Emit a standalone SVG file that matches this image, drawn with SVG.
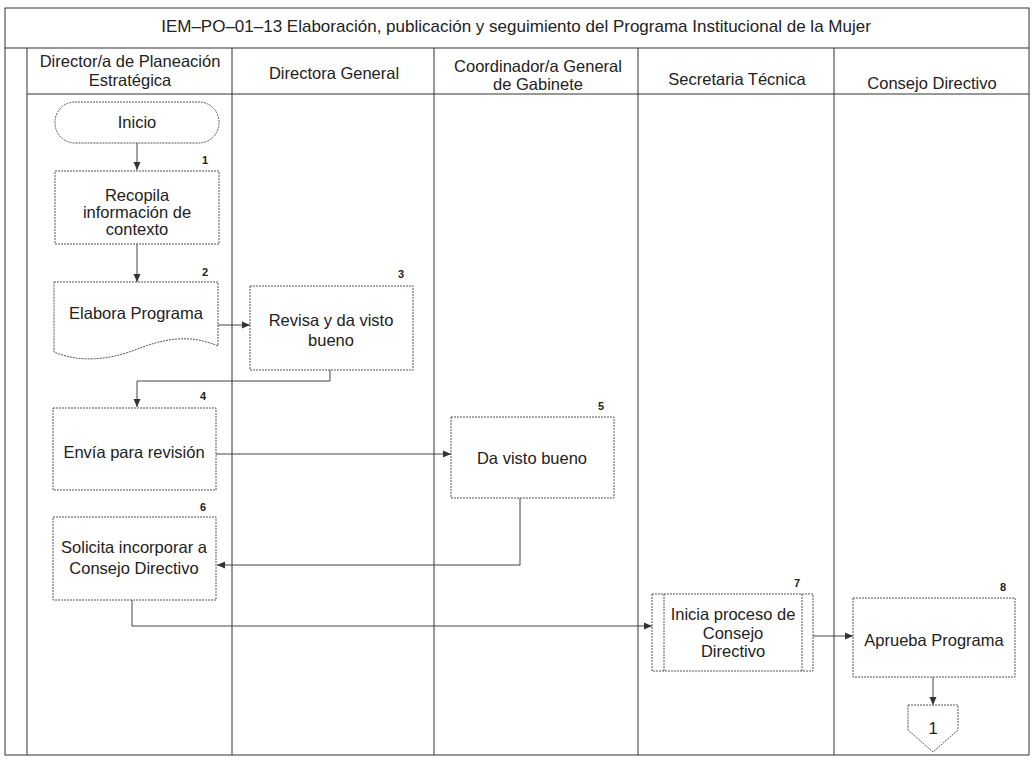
<svg xmlns="http://www.w3.org/2000/svg" width="1032" height="768" viewBox="0 0 1032 768">
  <style>
    .frame { fill: none; stroke: #333; stroke-width: 1; }
    .box { fill: #fff; stroke: #555; stroke-width: 1; stroke-dasharray: 2 1; }
    .conn { fill: none; stroke: #444; stroke-width: 1; marker-end: url(#arrow); }
    text { font-family: "Liberation Sans", Arial, sans-serif; fill: #222; }
    .title { font-size: 17px; text-anchor: middle; }
    .hdr { font-size: 16.5px; text-anchor: middle; }
    .lbl { font-size: 16.5px; text-anchor: middle; }
    .num { font-size: 11px; font-weight: bold; text-anchor: middle; }
  </style>
  <defs>
    <marker id="arrow" markerUnits="userSpaceOnUse" markerWidth="8" markerHeight="8" refX="8" refY="4" orient="auto">
      <path d="M0,0.5 L8,4 L0,7.5 Z" fill="#333"/>
    </marker>
  </defs>
  <rect width="1032" height="768" fill="#fff"/>

  <!-- pool: title, lane headers and lane dividers -->
  <g id="pool">
    <rect class="frame" x="5" y="8" width="1024" height="747"/>
    <line class="frame" x1="5" y1="48" x2="1029" y2="48"/>
    <line class="frame" x1="27" y1="94" x2="1029" y2="94"/>
    <line class="frame" x1="27" y1="48" x2="27" y2="755"/>
    <line class="frame" x1="232" y1="48" x2="232" y2="755"/>
    <line class="frame" x1="434" y1="48" x2="434" y2="755"/>
    <line class="frame" x1="638" y1="48" x2="638" y2="755"/>
    <line class="frame" x1="834" y1="48" x2="834" y2="755"/>
    <text class="title" x="516" y="32">IEM–PO–01–13 Elaboración, publicación y seguimiento del Programa Institucional de la Mujer</text>
    <text class="hdr" x="130" y="67">Director/a de Planeación</text>
    <text class="hdr" x="130" y="86">Estratégica</text>
    <text class="hdr" x="334" y="79">Directora General</text>
    <text class="hdr" x="538" y="72">Coordinador/a General</text>
    <text class="hdr" x="538" y="90">de Gabinete</text>
    <text class="hdr" x="737" y="85">Secretaria Técnica</text>
    <text class="hdr" x="932" y="89">Consejo Directivo</text>
  </g>

  <!-- connectors -->
  <g id="connectors">
    <path class="conn" d="M137,143 V170"/>
    <path class="conn" d="M137,244 V282"/>
    <path class="conn" d="M218,325 H250"/>
    <path class="conn" d="M330,370 V381 H137 V407"/>
    <path class="conn" d="M216,454 H451"/>
    <path class="conn" d="M520,498 V565 H217"/>
    <path class="conn" d="M132,600 V626 H652"/>
    <path class="conn" d="M813,636 H853"/>
    <path class="conn" d="M933,677 V705"/>
  </g>

  <g id="inicio">
    <rect class="box" x="55" y="102" width="164" height="41" rx="20" ry="20"/>
    <text class="lbl" x="137" y="128">Inicio</text>
  </g>

  <g id="step1">
    <rect class="box" x="55" y="171" width="164" height="73"/>
    <text class="num" x="205" y="164">1</text>
    <text class="lbl" x="137" y="201">Recopila</text>
    <text class="lbl" x="137" y="218">información de</text>
    <text class="lbl" x="137" y="235">contexto</text>
  </g>

  <g id="step2">
    <path class="box" d="M54,282 H218 V346 C190,334 165,338 135,350 C105,361 78,362 54,352 Z"/>
    <text class="num" x="205" y="276">2</text>
    <text class="lbl" x="136" y="319">Elabora Programa</text>
  </g>

  <g id="step3">
    <rect class="box" x="250" y="286" width="163" height="84"/>
    <text class="num" x="401" y="278">3</text>
    <text class="lbl" x="331" y="326">Revisa y da visto</text>
    <text class="lbl" x="331" y="346">bueno</text>
  </g>

  <g id="step4">
    <rect class="box" x="53" y="408" width="163" height="82"/>
    <text class="num" x="203" y="400">4</text>
    <text class="lbl" x="134" y="458">Envía para revisión</text>
  </g>

  <g id="step5">
    <rect class="box" x="451" y="417" width="163" height="81"/>
    <text class="num" x="601" y="410">5</text>
    <text class="lbl" x="532" y="464">Da visto bueno</text>
  </g>

  <g id="step6">
    <rect class="box" x="53" y="517" width="163" height="83"/>
    <text class="num" x="203" y="511">6</text>
    <text class="lbl" x="134" y="553">Solicita incorporar a</text>
    <text class="lbl" x="134" y="574">Consejo Directivo</text>
  </g>

  <g id="step7">
    <rect class="box" x="652" y="594" width="161" height="77"/>
    <line class="box" x1="664" y1="594" x2="664" y2="671"/>
    <line class="box" x1="802" y1="594" x2="802" y2="671"/>
    <text class="num" x="797" y="587">7</text>
    <text class="lbl" x="733" y="620">Inicia proceso de</text>
    <text class="lbl" x="733" y="639">Consejo</text>
    <text class="lbl" x="733" y="657">Directivo</text>
  </g>

  <g id="step8">
    <rect class="box" x="853" y="598" width="162" height="79"/>
    <text class="num" x="1003" y="591">8</text>
    <text class="lbl" x="934" y="646">Aprueba Programa</text>
  </g>

  <g id="offpage1">
    <path class="box" d="M908,705 H958 V730 L933,752 L908,730 Z"/>
    <text class="lbl" x="933" y="734">1</text>
  </g>
</svg>
